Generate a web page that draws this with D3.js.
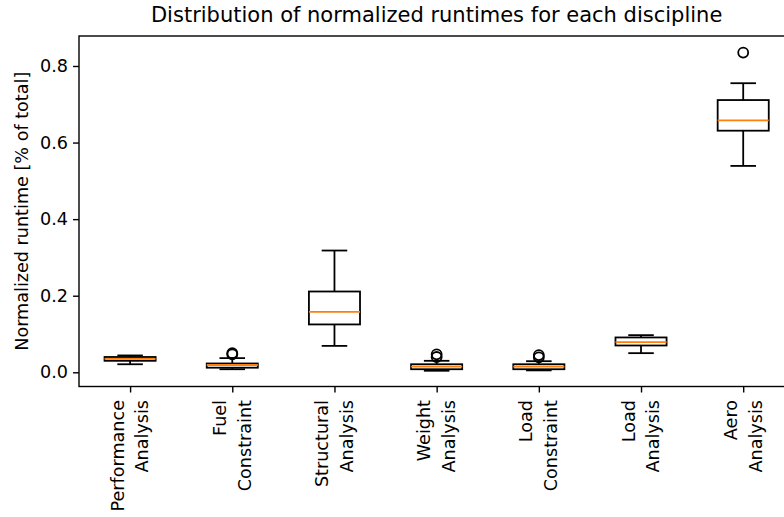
<!DOCTYPE html>
<html>
<head>
<meta charset="utf-8">
<script src="https://cdn.jsdelivr.net/npm/d3@7"></script>
<style>
  html, body { margin: 0; padding: 0; background: #fff; overflow: hidden; }
  svg { display: block; font-family: "DejaVu Sans", sans-serif; }
</style>
</head>
<body>
<svg id="chart" width="784" height="517"></svg>
<script>
// ---- data ----
const categories = [
  ["Performance", "Analysis"],
  ["Fuel", "Constraint"],
  ["Structural", "Analysis"],
  ["Weight", "Analysis"],
  ["Load", "Constraint"],
  ["Load", "Analysis"],
  ["Aero", "Analysis"]
];
const whiskerLow  = [0.021, 0.008, 0.069, 0.004, 0.005, 0.050, 0.539];
const q1          = [0.030, 0.012, 0.125, 0.008, 0.008, 0.070, 0.631];
const medians     = [0.035, 0.019, 0.158, 0.015, 0.015, 0.079, 0.658];
const q3          = [0.040, 0.023, 0.211, 0.021, 0.021, 0.091, 0.711];
const whiskerHigh = [0.044, 0.037, 0.318, 0.030, 0.029, 0.097, 0.755];
const outliers    = [[], [0.047, 0.050], [], [0.040, 0.047], [0.039, 0.045], [], [0.835]];
const yTicks = [0.0, 0.2, 0.4, 0.6, 0.8];
const titleText = "Distribution of normalized runtimes for each discipline";
const yLabelText = "Normalized runtime [% of total]";

(function () {
// ---- layout ----
const mLeft = 79, mRight = 794.3, mTop = 36, mBottom = 386.5;
const svg = d3.select("#chart");
svg.append("rect").attr("width", 784).attr("height", 517).attr("fill", "#fff");

const x = d3.scaleLinear().domain([0.5, 7.5]).range([mLeft, mRight]);
const y = d3.scaleLinear().domain([-0.0371, 0.8783]).range([mBottom, mTop]);
const boxHalf = (x(1.25) - x(1));   // half of 0.5 width
const capHalf = boxHalf / 2;

const data = categories.map((c, i) => ({
  i: i + 1, label: c, lo: whiskerLow[i], q1: q1[i], med: medians[i],
  q3: q3[i], hi: whiskerHigh[i], out: outliers[i]
}));

const g = svg.append("g");
const lw = 1.8;

const box = g.selectAll("g.box").data(data).join("g").attr("class", "box");
// whiskers
box.append("line").attr("x1", d => x(d.i)).attr("x2", d => x(d.i))
  .attr("y1", d => y(d.q1)).attr("y2", d => y(d.lo))
  .attr("stroke", "#000").attr("stroke-width", lw);
box.append("line").attr("x1", d => x(d.i)).attr("x2", d => x(d.i))
  .attr("y1", d => y(d.q3)).attr("y2", d => y(d.hi))
  .attr("stroke", "#000").attr("stroke-width", lw);
// caps
box.append("line").attr("x1", d => x(d.i) - capHalf).attr("x2", d => x(d.i) + capHalf)
  .attr("y1", d => y(d.lo)).attr("y2", d => y(d.lo))
  .attr("stroke", "#000").attr("stroke-width", lw);
box.append("line").attr("x1", d => x(d.i) - capHalf).attr("x2", d => x(d.i) + capHalf)
  .attr("y1", d => y(d.hi)).attr("y2", d => y(d.hi))
  .attr("stroke", "#000").attr("stroke-width", lw);
// box
box.append("rect").attr("x", d => x(d.i) - boxHalf).attr("width", 2 * boxHalf)
  .attr("y", d => y(d.q3)).attr("height", d => y(d.q1) - y(d.q3))
  .attr("fill", "none").attr("stroke", "#000").attr("stroke-width", lw);
// median
box.append("line").attr("x1", d => x(d.i) - boxHalf).attr("x2", d => x(d.i) + boxHalf)
  .attr("y1", d => y(d.med)).attr("y2", d => y(d.med))
  .attr("stroke", "#ff7f0e").attr("stroke-width", lw);
// outliers
box.selectAll("circle").data(d => d.out.map(v => ({ i: d.i, v })))
  .join("circle").attr("cx", d => x(d.i)).attr("cy", d => y(d.v)).attr("r", 5)
  .attr("fill", "none").attr("stroke", "#000").attr("stroke-width", lw);

// ---- axes ----
const yAxis = d3.axisLeft(y).tickValues(yTicks).tickFormat(d3.format(".1f"))
  .tickSize(6).tickPadding(5);
const ya = svg.append("g").attr("transform", `translate(${mLeft},0)`).call(yAxis);
ya.select(".domain").remove();
ya.selectAll(".tick line").attr("stroke", "#000").attr("stroke-width", 1.4);
ya.selectAll(".tick text").attr("font-size", "17.6px").attr("fill", "#000")
  .attr("font-family", "DejaVu Sans");

const xAxis = d3.axisBottom(x).tickValues(data.map(d => d.i)).tickSize(6).tickFormat("");
const xa = svg.append("g").attr("transform", `translate(0,${mBottom})`).call(xAxis);
xa.select(".domain").remove();
xa.selectAll(".tick line").attr("stroke", "#000").attr("stroke-width", 1.4);

// rotated multi-line tick labels
const labelTop = 400;
const lineGap = 24.8;
const lab = svg.append("g").selectAll("g.xl").data(data).join("g").attr("class", "xl");
lab.each(function (d) {
  const sel = d3.select(this);
  d.label.forEach((t, k) => {
    const bx = x(d.i) - 6.5 + k * lineGap;
    sel.append("text")
      .attr("transform", `translate(${bx},${labelTop}) rotate(-90)`)
      .attr("text-anchor", "end")
      .attr("font-size", "17.6px").attr("fill", "#000")
      .text(t);
  });
});

// spines
svg.append("rect").attr("x", mLeft).attr("y", mTop)
  .attr("width", mRight - mLeft).attr("height", mBottom - mTop)
  .attr("fill", "none").attr("stroke", "#000").attr("stroke-width", 1.4);

// title
svg.append("text").attr("x", (mLeft + mRight) / 2).attr("y", 22)
  .attr("text-anchor", "middle").attr("font-size", "21px").attr("fill", "#000")
  .text(titleText);

// y label
svg.append("text")
  .attr("transform", `translate(27.5,${(mTop + mBottom) / 2}) rotate(-90)`)
  .attr("text-anchor", "middle").attr("font-size", "17.6px").attr("fill", "#000")
  .text(yLabelText);
})();
</script>
</body>
</html>
